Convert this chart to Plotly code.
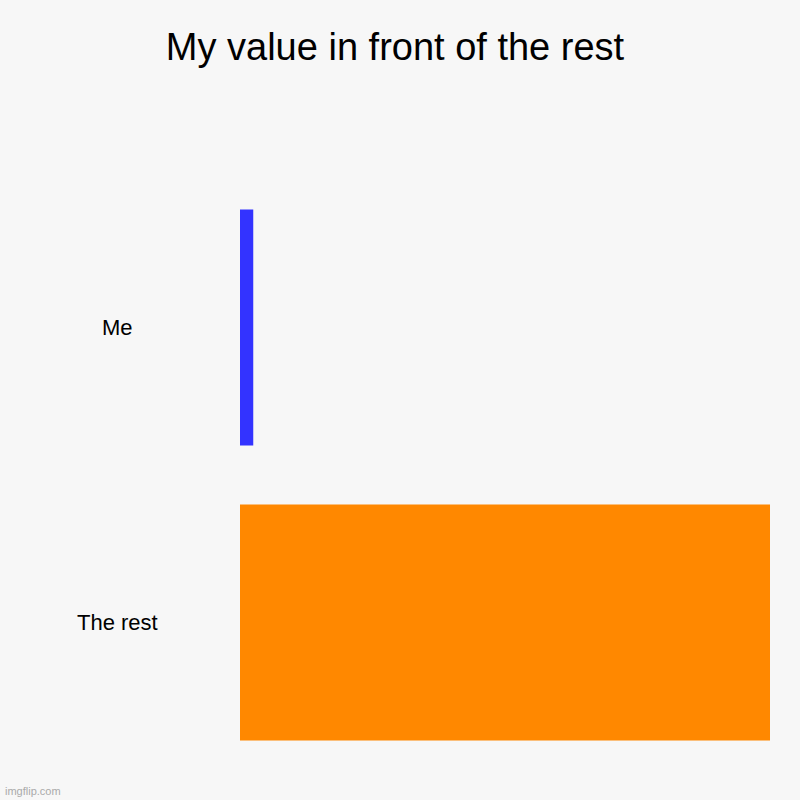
import plotly.graph_objects as go

categories = ["Me", "The rest"]
values = [1, 40]
colors = ["#3333ff", "#ff8800"]
title_text = "My value in front of the rest"
watermark = "imgflip.com"

W, H = 800, 800
ml, mr, mt, mb = 240, 30, 180, 30
pw = W - ml - mr
bg = "#f7f7f7"

fig = go.Figure(go.Bar(
    x=values, y=categories, orientation="h",
    marker=dict(color=colors, line=dict(width=0)),
    width=0.8, hoverinfo="skip",
))

annotations = []
for c in categories:
    annotations.append(dict(
        x=(117 - ml) / pw, xref="paper", y=c, yref="y",
        text=c, showarrow=False, xanchor="center", yanchor="middle",
        font=dict(family="Liberation Sans, Arial", size=22, color="#000000"),
    ))
annotations.append(dict(
    x=(3 - ml) / pw, xref="paper", y=(H - 791 - mb) / (H - mt - mb), yref="paper",
    text=watermark, showarrow=False, xanchor="left", yanchor="middle",
    font=dict(family="Liberation Sans, Arial", size=11, color="#aaaaaa"),
))

fig.update_layout(
    width=W, height=H,
    margin=dict(l=ml, r=mr, t=mt, b=mb, pad=0),
    paper_bgcolor=bg, plot_bgcolor=bg,
    title=dict(text=title_text, x=395 / W, xanchor="center",
               y=1 - 47 / H, yanchor="middle", yref="container",
               font=dict(family="Liberation Sans, Arial", size=38, color="#000000")),
    xaxis=dict(range=[0, max(values)], showgrid=False, zeroline=False,
               showticklabels=False, showline=False, fixedrange=True),
    yaxis=dict(categoryorder="array", categoryarray=categories, autorange="reversed",
               showgrid=False, zeroline=False, showticklabels=False, showline=False,
               fixedrange=True),
    annotations=annotations,
    showlegend=False,
)

fig.write_html(
    "out.html",
    config={"displayModeBar": False},
    post_script="document.body.style.margin='0';document.body.style.background='" + bg + "';",
)
